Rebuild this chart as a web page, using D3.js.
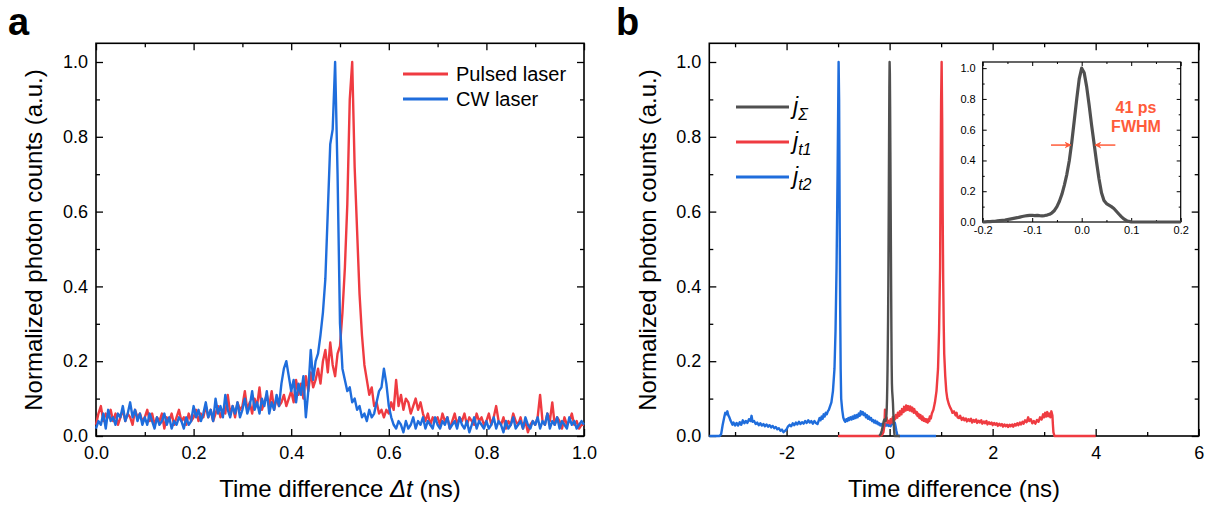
<!DOCTYPE html>
<html>
<head>
<meta charset="utf-8">
<script src="https://cdn.jsdelivr.net/npm/d3@7"></script>
<style>
  body { margin: 0; background: #fff; }
  text { font-family: "Liberation Sans", Arial, sans-serif; }
</style>
</head>
<body>
<svg id="chart" width="1207" height="506"></svg>
<script>
// ---- panel a : pulsed vs CW laser, sampled every 5 ps from 0 to 1 ns
var timeA = d3.range(201).map(function(i){ return +(i * 0.005).toFixed(3) })

var pulsed = [
    0.03,0.06,0.08,0.04,0.06,0.05,0.07,0.04,0.06,0.03,0.05,0.07,0.04,0.06,0.05,0.03,0.07,0.05,0.06,0.04,
    0.05,0.07,0.04,0.06,0.03,0.05,0.04,0.06,0.02,0.05,0.04,0.06,0.03,0.05,0.07,0.04,0.05,0.03,0.06,0.04,
    0.05,0.07,0.04,0.06,0.05,0.08,0.05,0.07,0.04,0.06,0.08,0.05,0.07,0.06,0.11,0.06,0.08,0.05,0.09,0.07,
    0.08,0.12,0.07,0.09,0.06,0.10,0.08,0.13,0.07,0.09,0.11,0.08,0.12,0.07,0.10,0.08,0.09,0.11,0.08,0.10,
    0.12,0.09,0.15,0.11,0.14,0.10,0.16,0.12,0.17,0.13,0.15,0.18,0.14,0.20,0.23,0.17,0.25,0.19,0.16,0.22,
    0.24,0.33,0.45,0.62,0.90,1.00,0.72,0.55,0.38,0.27,0.19,0.15,0.11,0.13,0.08,0.09,0.06,0.07,0.05,0.07,
    0.06,0.09,0.07,0.15,0.08,0.11,0.07,0.10,0.09,0.06,0.08,0.10,0.07,0.09,0.06,0.04,0.06,0.03,0.05,0.04,
    0.05,0.03,0.06,0.04,0.05,0.02,0.04,0.06,0.03,0.05,0.04,0.06,0.03,0.05,0.04,0.03,0.06,0.04,0.05,0.03,
    0.04,0.06,0.03,0.05,0.08,0.04,0.03,0.05,0.02,0.04,0.03,0.06,0.04,0.03,0.05,0.02,0.04,0.01,0.03,0.04,
    0.03,0.05,0.11,0.04,0.03,0.06,0.04,0.09,0.03,0.05,0.04,0.02,0.05,0.03,0.04,0.06,0.03,0.04,0.02,0.03,
    0.03]

var cw = [
    0.02,0.04,0.03,0.06,0.02,0.07,0.04,0.05,0.03,0.06,0.05,0.08,0.04,0.06,0.09,0.05,0.07,0.04,0.06,0.03,
    0.05,0.03,0.06,0.04,0.02,0.05,0.03,0.04,0.06,0.03,0.05,0.02,0.04,0.03,0.05,0.04,0.02,0.05,0.03,0.04,
    0.08,0.05,0.07,0.04,0.06,0.09,0.05,0.07,0.04,0.10,0.06,0.08,0.05,0.11,0.07,0.05,0.08,0.06,0.09,0.05,
    0.07,0.10,0.06,0.08,0.12,0.07,0.09,0.06,0.10,0.08,0.12,0.06,0.09,0.07,0.11,0.08,0.14,0.18,0.20,0.16,
    0.12,0.15,0.09,0.14,0.11,0.16,0.05,0.12,0.23,0.15,0.20,0.22,0.27,0.33,0.42,0.60,0.78,0.82,1.00,0.70,
    0.30,0.18,0.15,0.12,0.13,0.09,0.10,0.07,0.08,0.05,0.06,0.04,0.07,0.05,0.06,0.09,0.12,0.13,0.18,0.14,
    0.08,0.05,0.03,0.02,0.04,0.03,0.01,0.04,0.02,0.03,0.05,0.02,0.04,0.03,0.05,0.02,0.04,0.03,0.02,0.05,
    0.03,0.02,0.04,0.03,0.05,0.02,0.03,0.04,0.02,0.05,0.03,0.02,0.04,0.01,0.03,0.05,0.02,0.04,0.03,0.02,
    0.04,0.02,0.03,0.05,0.02,0.04,0.03,0.01,0.04,0.02,0.03,0.05,0.02,0.03,0.04,0.02,0.05,0.03,0.02,0.04,
    0.03,0.05,0.02,0.04,0.03,0.06,0.02,0.04,0.03,0.05,0.02,0.04,0.03,0.02,0.05,0.03,0.04,0.02,0.03,0.04,
    0.03]

// ---- panel b : [time (ns), counts]
var jt1 = [[-1.0,0],[-0.2,0],[-0.15,0.002],[-0.12,0.01],[-0.1,0.03],[-0.09,0.07],[-0.08,0.04],[-0.06,0.05],
    [-0.04,0.035],[-0.02,0.04],[0,0.04],[0.01,0.033],[0.02,0.045],[0.03,0.038],[0.04,0.042],[0.05,0.036],
    [0.06,0.05],[0.07,0.043],[0.08,0.048],[0.09,0.042],[0.1,0.052],[0.11,0.046],[0.12,0.056],[0.13,0.05],
    [0.14,0.054],[0.15,0.049],[0.16,0.062],[0.17,0.055],[0.18,0.06],[0.19,0.054],[0.2,0.066],[0.21,0.06],
    [0.22,0.064],[0.23,0.058],[0.24,0.072],[0.25,0.065],[0.26,0.07],[0.27,0.064],[0.28,0.078],[0.29,0.07],
    [0.3,0.074],[0.31,0.068],[0.32,0.082],[0.33,0.074],[0.34,0.078],[0.35,0.07],[0.36,0.08],[0.37,0.072],
    [0.38,0.076],[0.39,0.068],[0.4,0.079],[0.41,0.071],[0.42,0.074],[0.43,0.066],[0.44,0.076],[0.45,0.068],
    [0.46,0.07],[0.47,0.062],[0.48,0.072],[0.49,0.063],[0.5,0.066],[0.52,0.058],[0.53,0.064],[0.54,0.054],
    [0.55,0.06],[0.56,0.052],[0.57,0.058],[0.58,0.048],[0.6,0.056],[0.61,0.046],[0.62,0.05],[0.63,0.043],
    [0.64,0.052],[0.66,0.041],[0.67,0.047],[0.68,0.04],[0.7,0.045],[0.71,0.038],[0.72,0.044],[0.74,0.036],
    [0.75,0.043],[0.76,0.046],[0.77,0.04],[0.78,0.052],[0.8,0.047],[0.82,0.06],[0.85,0.07],[0.88,0.09],
    [0.91,0.12],[0.94,0.18],[0.96,0.28],[0.98,0.45],[0.99,0.7],[1.0,0.9],[1.01,1.0],[1.02,0.85],[1.03,0.6],
    [1.04,0.42],[1.05,0.3],[1.06,0.22],[1.08,0.16],[1.1,0.12],[1.12,0.1],[1.15,0.085],[1.18,0.075],
    [1.2,0.07],[1.22,0.062],[1.25,0.066],[1.28,0.055],[1.3,0.062],[1.32,0.05],[1.35,0.048],[1.37,0.054],
    [1.4,0.043],[1.43,0.049],[1.45,0.042],[1.48,0.047],[1.5,0.039],[1.53,0.045],[1.55,0.04],[1.58,0.046],
    [1.6,0.036],[1.63,0.043],[1.65,0.038],[1.68,0.044],[1.7,0.035],[1.73,0.041],[1.75,0.036],[1.78,0.042],
    [1.8,0.033],[1.83,0.039],[1.85,0.034],[1.88,0.04],[1.9,0.031],[1.93,0.037],[1.95,0.032],[1.98,0.036],
    [2.0,0.029],[2.03,0.035],[2.05,0.03],[2.08,0.034],[2.1,0.027],[2.13,0.033],[2.15,0.028],[2.18,0.032],
    [2.2,0.025],[2.23,0.031],[2.25,0.026],[2.28,0.03],[2.3,0.024],[2.33,0.03],[2.35,0.026],[2.38,0.031],
    [2.4,0.025],[2.43,0.032],[2.45,0.028],[2.48,0.034],[2.5,0.029],[2.53,0.036],[2.55,0.031],[2.58,0.038],
    [2.6,0.033],[2.63,0.042],[2.66,0.037],[2.69,0.05],[2.71,0.04],[2.74,0.045],[2.77,0.034],[2.8,0.04],
    [2.83,0.033],[2.86,0.043],[2.89,0.038],[2.92,0.05],[2.95,0.044],[2.98,0.058],[3.0,0.05],[3.02,0.062],
    [3.04,0.052],[3.06,0.064],[3.08,0.053],[3.1,0.06],[3.12,0.05],[3.14,0.066],[3.16,0.055],[3.17,0.03],
    [3.18,0.01],[3.2,0],[4.0,0]]

var jt2 = [[-3.5,0],[-3.3,0],[-3.27,0.005],[-3.24,0.03],[-3.21,0.05],[-3.19,0.062],[-3.17,0.058],[-3.15,0.066],
    [-3.13,0.055],[-3.11,0.05],[-3.09,0.042],[-3.07,0.036],[-3.05,0.03],[-3.03,0.036],[-3.0,0.028],[-2.97,0.035],
    [-2.94,0.028],[-2.91,0.037],[-2.88,0.03],[-2.85,0.042],[-2.82,0.034],[-2.79,0.04],[-2.76,0.035],[-2.73,0.045],
    [-2.7,0.04],[-2.68,0.054],[-2.66,0.038],[-2.63,0.04],[-2.6,0.032],[-2.57,0.036],[-2.54,0.029],[-2.51,0.034],
    [-2.48,0.028],[-2.45,0.032],[-2.42,0.026],[-2.39,0.031],[-2.36,0.025],[-2.33,0.029],[-2.3,0.023],[-2.27,0.027],
    [-2.24,0.021],[-2.21,0.024],[-2.18,0.018],[-2.15,0.021],[-2.12,0.014],[-2.09,0.017],[-2.06,0.01],[-2.03,0.014],
    [-2.0,0.018],[-1.97,0.026],[-1.94,0.03],[-1.91,0.026],[-1.88,0.034],[-1.85,0.029],[-1.82,0.036],[-1.79,0.031],
    [-1.76,0.038],[-1.73,0.032],[-1.7,0.037],[-1.67,0.033],[-1.64,0.04],[-1.61,0.035],[-1.58,0.042],[-1.55,0.036],
    [-1.52,0.04],[-1.49,0.033],[-1.46,0.04],[-1.43,0.035],[-1.4,0.032],[-1.38,0.04],[-1.36,0.048],[-1.34,0.042],
    [-1.32,0.052],[-1.3,0.046],[-1.28,0.058],[-1.26,0.052],[-1.24,0.062],[-1.22,0.058],[-1.2,0.066],[-1.18,0.07],
    [-1.16,0.078],[-1.13,0.09],[-1.1,0.12],[-1.07,0.18],[-1.05,0.28],[-1.03,0.45],[-1.01,0.7],[-1.0,0.85],
    [-0.99,1.0],[-0.98,0.9],[-0.97,0.6],[-0.96,0.35],[-0.95,0.18],[-0.94,0.1],[-0.92,0.07],[-0.9,0.05],
    [-0.88,0.042],[-0.86,0.038],[-0.84,0.045],[-0.82,0.04],[-0.8,0.048],[-0.78,0.043],[-0.76,0.05],[-0.74,0.044],
    [-0.72,0.052],[-0.7,0.046],[-0.68,0.055],[-0.66,0.048],[-0.64,0.056],[-0.62,0.05],[-0.6,0.06],[-0.58,0.054],
    [-0.56,0.066],[-0.54,0.058],[-0.52,0.064],[-0.5,0.056],[-0.48,0.06],[-0.46,0.05],[-0.44,0.056],[-0.42,0.046],
    [-0.4,0.052],[-0.38,0.044],[-0.36,0.048],[-0.34,0.04],[-0.32,0.043],[-0.3,0.036],[-0.28,0.041],[-0.26,0.034],
    [-0.24,0.038],[-0.22,0.031],[-0.2,0.034],[-0.18,0.028],[-0.16,0.032],[-0.14,0.027],[-0.12,0.031],[-0.1,0.026],
    [-0.08,0.032],[-0.06,0.028],[-0.04,0.033],[-0.02,0.027],[0,0.03],[0.02,0.026],[0.04,0.032],[0.06,0.035],
    [0.08,0.03],[0.1,0.036],[0.11,0.03],[0.13,0.015],[0.15,0.002],[0.18,0],[0.9,0]]

// j_sigma, sampled every 5 ps from -0.2 to 0.2 ns
var timeSum = d3.range(81).map(function(i){ return +(-0.2 + i * 0.005).toFixed(3) })
var jSum = [
    0,0.001,0.002,0.003,0.004,0.005,0.007,0.009,0.011,0.013,0.016,0.019,0.022,0.025,0.028,0.032,0.036,0.039,0.041,0.043,
    0.044,0.042,0.043,0.041,0.04,0.042,0.045,0.05,0.06,0.075,0.1,0.135,0.18,0.24,0.31,0.4,0.52,0.66,0.8,0.93,
    1.0,0.97,0.88,0.76,0.63,0.51,0.39,0.28,0.19,0.14,0.12,0.11,0.1,0.088,0.07,0.052,0.035,0.02,0.01,0.004,
    0.001,0,0,0,0,0,0,0,0,0,0,0,0,0,0,0,0,0,0,0,
    0]

var yTicks = [0, 0.2, 0.4, 0.6, 0.8, 1.0]

var RED = "#ef3b41", BLUE = "#1f6ddc", GRAY = "#505050", ORANGE = "#ff5b3a"

var svg = d3.select("#chart")

var xA = d3.scaleLinear().domain([0, 1]).range([96, 584])
var yA = d3.scaleLinear().domain([0, 1.05]).range([436, 43.3])
var xB = d3.scaleLinear().domain([-3.5, 6]).range([709.3, 1198.7])
var yB = d3.scaleLinear().domain([0, 1.05]).range([436, 43.3])
var xI = d3.scaleLinear().domain([-0.2, 0.2]).range([982.7, 1180.7])
var yI = d3.scaleLinear().domain([0, 1.04]).range([222, 62])

// boxed axes with inward ticks on all four sides
function addAxes(x, y, c) {
    var x0 = x.range()[0], x1 = x.range()[1], y0 = y.range()[0], y1 = y.range()[1]
    var g = svg.append("g")

    function put(axis, tx, ty, vals, size, fmt, pad) {
        var a = g.append("g")
            .attr("transform", `translate(${tx},${ty})`)
            .call(axis.tickValues(vals).tickSize(-size).tickSizeOuter(0).tickPadding(pad).tickFormat(fmt))
        a.select(".domain").remove()
        a.selectAll("line").attr("stroke", "#000").attr("stroke-width", c.tw)
        a.selectAll("text").attr("fill", "#000").style("font-size", c.fs + "px")
            .style("font-family", "'Liberation Sans', Arial, sans-serif")
        return a
    }
    var none = function(){ return "" }

    put(d3.axisBottom(x), 0, y0, c.xMinor, c.minor, none, 0)
    put(d3.axisTop(x), 0, y1, c.xMinor, c.minor, none, 0)
    put(d3.axisLeft(y), x0, 0, c.yMinor, c.minor, none, 0)
    put(d3.axisRight(y), x1, 0, c.yMinor, c.minor, none, 0)
    put(d3.axisBottom(x), 0, y0, c.xMajor, c.major, c.xFmt, c.padX)
    put(d3.axisTop(x), 0, y1, c.xMajor, c.major, none, 0)
    put(d3.axisLeft(y), x0, 0, c.yMajor, c.major, c.yFmt, c.padY)
    put(d3.axisRight(y), x1, 0, c.yMajor, c.major, none, 0)

    g.append("rect")
        .attr("x", x0).attr("y", y1)
        .attr("width", x1 - x0).attr("height", y0 - y1)
        .attr("fill", "none").attr("stroke", "#000").attr("stroke-width", c.fw)
}

var f1 = function(d){ return d.toFixed(1) }

// ---------------- panel a
addAxes(xA, yA, {
    xMajor: [0, 0.2, 0.4, 0.6, 0.8, 1.0], xMinor: [0.1, 0.3, 0.5, 0.7, 0.9],
    yMajor: yTicks, yMinor: [0.1, 0.3, 0.5, 0.7, 0.9],
    major: 7, minor: 4, tw: 1.3, fw: 1.6, fs: 18, xFmt: f1, yFmt: f1, padX: 10, padY: 8
})

var lineA = function(vals) {
    return d3.line()
        .x(function(d, i){ return xA(timeA[i]) })
        .y(function(d){ return yA(d) })(vals)
}

svg.append("path").attr("d", lineA(pulsed))
    .attr("fill", "none").attr("stroke", RED).attr("stroke-width", 2.4).attr("stroke-linejoin", "round")
svg.append("path").attr("d", lineA(cw))
    .attr("fill", "none").attr("stroke", BLUE).attr("stroke-width", 2.4).attr("stroke-linejoin", "round")

var legendA = svg.append("g").attr("transform", "translate(403, 74)")
legendA.append("line").attr("x1", 0).attr("x2", 45).attr("y1", 0).attr("y2", 0)
    .attr("stroke", RED).attr("stroke-width", 3)
legendA.append("text").attr("x", 53).attr("y", 7).style("font-size", "20px").text("Pulsed laser")
legendA.append("line").attr("x1", 0).attr("x2", 45).attr("y1", 25).attr("y2", 25)
    .attr("stroke", BLUE).attr("stroke-width", 3)
legendA.append("text").attr("x", 53).attr("y", 32).style("font-size", "20px").text("CW laser")

var xTitleA = svg.append("text")
    .attr("x", 340).attr("y", 497)
    .attr("text-anchor", "middle")
    .style("font-size", "24px")
xTitleA.append("tspan").text("Time difference ")
xTitleA.append("tspan").style("font-style", "italic").text("\u0394t")
xTitleA.append("tspan").text(" (ns)")

svg.append("text")
    .attr("transform", "translate(42, 240) rotate(-90)")
    .attr("text-anchor", "middle")
    .style("font-size", "24px")
    .text("Normalized photon counts (a.u.)")

svg.append("text").attr("x", 8).attr("y", 35)
    .style("font-size", "38px").style("font-weight", "bold").text("a")

// ---------------- panel b
addAxes(xB, yB, {
    xMajor: [-2, 0, 2, 4, 6], xMinor: [-3, -1, 1, 3, 5],
    yMajor: yTicks, yMinor: [0.1, 0.3, 0.5, 0.7, 0.9],
    major: 7, minor: 4, tw: 1.3, fw: 1.6, fs: 18,
    xFmt: function(d){ return String(d) }, yFmt: f1, padX: 10, padY: 8
})

var lineB = d3.line()
    .x(function(d){ return xB(d[0]) })
    .y(function(d){ return yB(d[1]) })

svg.append("path").attr("d", lineB(jt2))
    .attr("fill", "none").attr("stroke", BLUE).attr("stroke-width", 2.4).attr("stroke-linejoin", "round")
svg.append("path").attr("d", lineB(jt1))
    .attr("fill", "none").attr("stroke", RED).attr("stroke-width", 2.4).attr("stroke-linejoin", "round")
svg.append("path").attr("d", lineB(timeSum.map(function(t, i){ return [t, jSum[i]] })))
    .attr("fill", "none").attr("stroke", GRAY).attr("stroke-width", 2.4).attr("stroke-linejoin", "round")

var legendB = svg.append("g").attr("transform", "translate(736, 107)")
var legItems = [
    { color: GRAY, sub: "\u03a3" },
    { color: RED, sub: "t1" },
    { color: BLUE, sub: "t2" }
]
legItems.forEach(function(d, i) {
    var yy = i * 35
    legendB.append("line").attr("x1", 0).attr("x2", 53).attr("y1", yy).attr("y2", yy)
        .attr("stroke", d.color).attr("stroke-width", 3)
    var t = legendB.append("text").attr("x", 57).attr("y", yy + 7)
        .style("font-size", "23px").style("font-style", "italic")
    t.append("tspan").text("j")
    t.append("tspan").attr("dy", 6).style("font-size", "16px").text(d.sub)
})

svg.append("text")
    .attr("x", 954).attr("y", 497)
    .attr("text-anchor", "middle")
    .style("font-size", "24px")
    .text("Time difference (ns)")

svg.append("text")
    .attr("transform", "translate(656, 240) rotate(-90)")
    .attr("text-anchor", "middle")
    .style("font-size", "24px")
    .text("Normalized photon counts (a.u.)")

svg.append("text").attr("x", 616).attr("y", 35)
    .style("font-size", "38px").style("font-weight", "bold").text("b")

// ---------------- inset
svg.append("rect").attr("x", 982.7).attr("y", 62).attr("width", 198).attr("height", 160).attr("fill", "#fff")

addAxes(xI, yI, {
    xMajor: [-0.2, -0.1, 0, 0.1, 0.2], xMinor: [-0.15, -0.05, 0.05, 0.15],
    yMajor: yTicks, yMinor: [0.1, 0.3, 0.5, 0.7, 0.9],
    major: 4, minor: 2, tw: 1, fw: 1.2, fs: 11, xFmt: f1, yFmt: f1, padX: 4, padY: 7
})

var lineI = d3.line()
    .x(function(d, i){ return xI(timeSum[i]) })
    .y(function(d){ return yI(d) })

svg.append("path").attr("d", lineI(jSum))
    .attr("fill", "none").attr("stroke", GRAY).attr("stroke-width", 3.2).attr("stroke-linejoin", "round")

svg.append("defs").append("marker")
    .attr("id", "arrow")
    .attr("viewBox", "0 0 10 10")
    .attr("refX", 9).attr("refY", 5)
    .attr("markerWidth", 7).attr("markerHeight", 7)
    .attr("markerUnits", "userSpaceOnUse")
    .attr("orient", "auto")
    .append("path").attr("d", "M0,0 L10,5 L0,10 L3,5 Z").attr("fill", ORANGE)

svg.append("line")
    .attr("x1", xI(-0.062)).attr("x2", xI(-0.022)).attr("y1", yI(0.5)).attr("y2", yI(0.5))
    .attr("stroke", ORANGE).attr("stroke-width", 1.5).attr("marker-end", "url(#arrow)")
svg.append("line")
    .attr("x1", xI(0.068)).attr("x2", xI(0.027)).attr("y1", yI(0.5)).attr("y2", yI(0.5))
    .attr("stroke", ORANGE).attr("stroke-width", 1.5).attr("marker-end", "url(#arrow)")

svg.append("text").attr("x", 1136).attr("y", 113)
    .attr("text-anchor", "middle").attr("fill", ORANGE)
    .style("font-size", "16px").style("font-weight", "bold").text("41 ps")
svg.append("text").attr("x", 1136).attr("y", 132)
    .attr("text-anchor", "middle").attr("fill", ORANGE)
    .style("font-size", "16px").style("font-weight", "bold").text("FWHM")
</script>
</body>
</html>
